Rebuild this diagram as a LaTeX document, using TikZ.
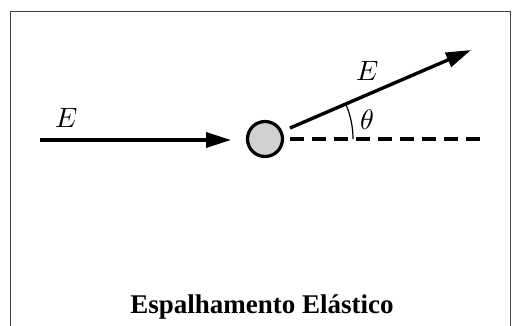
\documentclass[tikz,border=0pt]{standalone}
\usepackage{fontspec}
\setmainfont{Liberation Serif}
\usepackage{unicode-math}
\setmathfont{Latin Modern Math}
\usetikzlibrary{arrows.meta}
\begin{document}
\begin{tikzpicture}[x=1pt,y=-1pt,
  ray/.style={line width=3.4pt,-{Triangle[length=25pt,width=15pt]}},
  lbl/.style={font=\fontsize{28}{32}\selectfont,inner sep=0pt}]
\useasboundingbox (0,0) rectangle (512,325);
\draw[line width=1.6pt,black!75] (10.5,11.5) rectangle (510.5,340);
\node[circle,draw,line width=3.2pt,fill=black!18,minimum size=35pt,inner sep=0pt] (t) at (265,139) {};
\coordinate (in) at (40,140);
\coordinate (inend) at (231,140);
\draw[ray] (in) -- (inend);
\coordinate (d0) at (290,139);
\coordinate (d1) at (487,139);
\draw[line width=3.2pt,dash pattern=on 14pt off 8pt] (d0) -- (d1);
\coordinate (o0) at (290,128);
\coordinate (o1) at (471,50);
\draw[ray] (o0) -- (o1);
\draw[line width=1.2pt] ([xshift=88pt]t.center) arc[start angle=0,end angle=23.5,radius=88pt];
\node[lbl] (e1) at (67,118) {$E$};
\node[lbl] (e2) at (368,71) {$E$};
\node[lbl] (th) at (367,120) {$\theta$};
\node[font=\fontsize{27}{30}\selectfont\bfseries,inner sep=0pt,anchor=base] (title) at (262,313) {Espalhamento Elástico};
\end{tikzpicture}
\end{document}
